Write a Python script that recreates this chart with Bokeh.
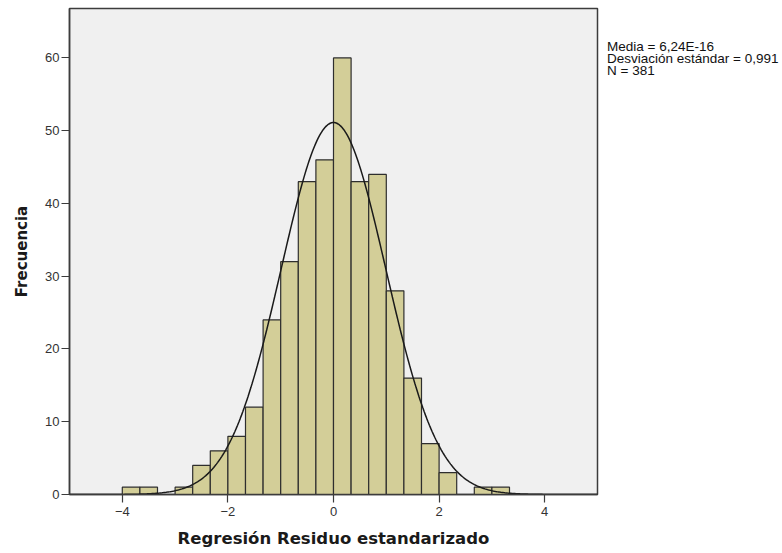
import numpy as np
from bokeh.plotting import figure
from bokeh.models import Range1d, FixedTicker
from bokeh.layouts import row
from bokeh.core.properties import value
from bokeh.embed import file_html
from bokeh.resources import INLINE

# Data
bin_start = -4.0
bin_width = 1.0 / 3.0
counts = [1, 1, 0, 1, 4, 6, 8, 12, 24, 32, 43, 46, 60, 43, 44, 28, 16, 7, 3, 0, 1, 1]
mean = 6.24e-16
sd = 0.991
n = 381
stats_lines = ["Media = 6,24E-16", "Desviación estándar = 0,991", "N = 381"]
x_ticks = [-4, -2, 0, 2, 4]
y_ticks = [0, 10, 20, 30, 40, 50, 60]

lefts = [bin_start + i * bin_width for i in range(len(counts))]
rights = [l + bin_width for l in lefts]

FONT = "Liberation Sans"
TITLE_FONT = "DejaVu Sans"

p = figure(width=600, height=553, output_backend="svg", toolbar_location=None,
           x_range=Range1d(-5, 5), y_range=Range1d(0, 66.8),
           min_border_left=69, min_border_right=3, min_border_top=8, min_border_bottom=59)
p.background_fill_color = "#f0f0f0"
p.border_fill_color = "white"
p.outline_line_color = "#3c3c3c"
p.outline_line_width = 1.5
p.grid.visible = False

p.quad(left=lefts, right=rights, bottom=0, top=counts,
       fill_color="#d3ce98", line_color="#2e2e2e", line_width=1.2)

xs = np.linspace(-5, 5, 400)
ys = n * bin_width / (sd * np.sqrt(2 * np.pi)) * np.exp(-0.5 * ((xs - mean) / sd) ** 2)
p.line(xs, ys, line_color="#1a1a1a", line_width=1.5)

for ax in (p.xaxis[0], p.yaxis[0]):
    ax.axis_line_color = "#3c3c3c"
    ax.axis_line_width = 1.5
    ax.major_tick_line_color = "#3c3c3c"
    ax.major_tick_line_width = 1.2
    ax.minor_tick_line_color = None
    ax.major_tick_in = 0
    ax.major_label_text_font = FONT
    ax.major_label_text_font_size = "13px"
    ax.major_label_text_color = "#333333"
    ax.axis_label_text_font = TITLE_FONT
    ax.axis_label_text_font_style = "bold"
    ax.axis_label_text_color = "#1a1a1a"

p.xaxis.axis_label_text_font_size = "16.5px"
p.yaxis.axis_label_text_font_size = "15px"
p.xaxis.ticker = FixedTicker(ticks=x_ticks)
p.yaxis.ticker = FixedTicker(ticks=y_ticks)
p.xaxis.major_tick_out = 8
p.yaxis.major_tick_out = 8
p.xaxis.major_label_standoff = 4
p.yaxis.major_label_standoff = 2
p.xaxis.axis_label = "Regresión Residuo estandarizado"
p.yaxis.axis_label = "Frecuencia"
p.xaxis.axis_label_standoff = 10
p.yaxis.axis_label_standoff = 11

# side panel holding the summary statistics text
side = figure(width=182, height=553, output_backend="svg", toolbar_location=None,
              x_range=Range1d(0, 182), y_range=Range1d(553, 0),
              min_border=0, min_border_left=0, min_border_right=0,
              min_border_top=0, min_border_bottom=0)
side.axis.visible = False
side.grid.visible = False
side.outline_line_color = None
side.background_fill_color = "white"
side.border_fill_color = "white"
side.text(x=[6.5] * len(stats_lines), y=[43.5 + i * 13.5 for i in range(len(stats_lines))],
          text=stats_lines, text_font=value(FONT), text_font_size="13.5px",
          text_color="#111111", text_baseline="middle", text_align="left")

layout = row(p, side)
open("out.html", "w").write(file_html(layout, INLINE))
